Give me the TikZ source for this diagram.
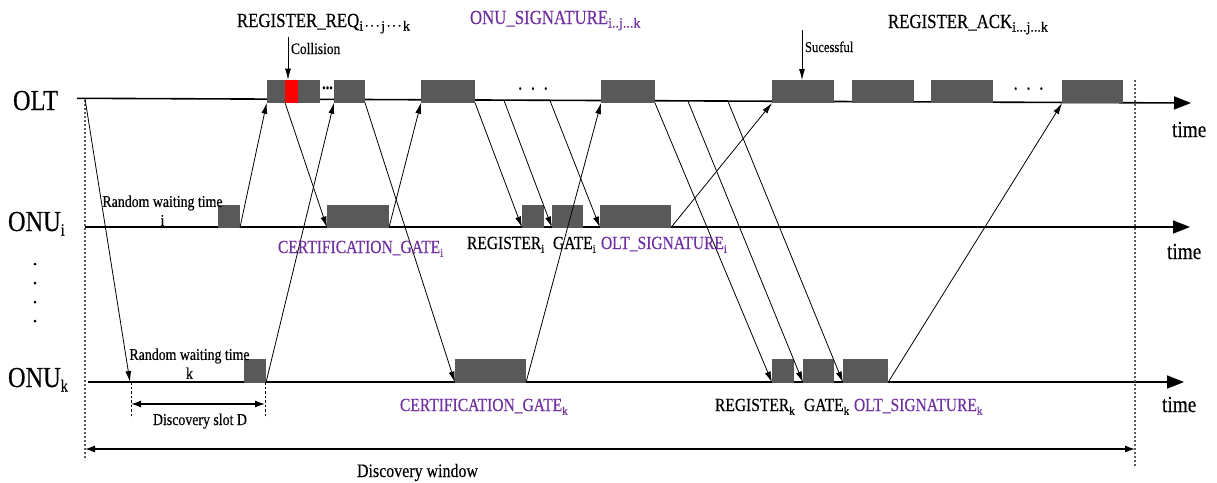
\documentclass[tikz,border=0pt]{standalone}
\usepackage{fontspec}
\setmainfont{Liberation Serif}[FakeStretch=0.84,FakeBold=0.35]
\newfontfamily\subfont{Liberation Serif}[FakeBold=0.35]
\usetikzlibrary{arrows.meta}
\definecolor{sigpurple}{RGB}{112,48,160}
\definecolor{blockgray}{RGB}{89,89,89}
\definecolor{boundgray}{RGB}{90,90,90}
% lowered indices
\newcommand{\lsub}[1]{\raisebox{-3.5pt}{\subfont\fontsize{11}{11}\selectfont #1}}
\newcommand{\tsub}[1]{\raisebox{-3.5pt}{\subfont\fontsize{14}{14}\selectfont #1}}
\newcommand{\bsub}[1]{\raisebox{-4.5pt}{\fontsize{17}{17}\selectfont #1}}
\begin{document}
\begin{tikzpicture}[x=1pt,y=-1pt,
  axis/.style={line width=1.6pt,-{Triangle[length=17pt,width=13pt]}},
  msg/.style={line width=0.8pt,-{Latex[length=11pt,width=6pt]}},
  blk/.style={fill=blockgray,draw=none,inner sep=0,outer sep=0,anchor=south west},
  lbl/.style={anchor=base west,inner sep=0,outer sep=0},
  station/.style={lbl,font=\fontsize{29}{31}\selectfont},
  timelbl/.style={lbl,font=\fontsize{23}{25}\selectfont},
  toplbl/.style={lbl,font=\fontsize{20}{22}\selectfont},
  msglbl/.style={lbl,font=\fontsize{18.5}{20}\selectfont},
  note/.style={lbl,font=\fontsize{16.5}{19}\selectfont},
  bound/.style={draw=boundgray,line width=1.1pt,dash pattern=on 2pt off 2pt},
  tick/.style={draw=black,line width=0.9pt,dash pattern=on 2.5pt off 2pt},
  span/.style={line width=1.3pt,{Latex[length=10pt,width=7pt]}-{Latex[length=10pt,width=7pt]}},
  dot/.style={fill=black,circle,inner sep=0,minimum size=3pt},
]
\useasboundingbox (0,0) rectangle (1217,482);

% ---------- time axes ----------
\coordinate (oltS) at (77,98.3);
\coordinate (oltE) at (1191,103);
\coordinate (onuiS) at (85,227);
\coordinate (onuiE) at (1190,227);
\coordinate (onukS) at (88,382);
\coordinate (onukE) at (1184,382);
\draw[axis] (oltS) -- (oltE);
\draw[axis] (onuiS) -- (onuiE);
\draw[axis] (onukS) -- (onukE);

\node[station] (olt) at (13,110) {OLT};
\node[station] (onui) at (8,231) {ONU\bsub{i}};
\node[station] (onuk) at (8,387) {ONU\bsub{k}};
\node[dot] (vd1) at (35,264) {};
\node[dot] (vd2) at (35,283) {};
\node[dot] (vd3) at (35,302) {};
\node[dot] (vd4) at (35,321) {};

\node[timelbl] (t1) at (1172,137) {time};
\node[timelbl] (t2) at (1167,259) {time};
\node[timelbl] (t3) at (1162,412) {time};

% ---------- discovery window ----------
\coordinate (wl0) at (85,100);
\coordinate (wl1) at (85,460);
\coordinate (wr0) at (1135,80);
\coordinate (wr1) at (1135,467);
\draw[bound] (wl0) -- (wl1);
\draw[bound] (wr0) -- (wr1);
\coordinate (wa) at (85,449);
\coordinate (wb) at (1135,449);
\draw[span] (wa) -- (wb);
\node[lbl,font=\fontsize{19}{21}\selectfont] (dwin) at (357,477) {Discovery window};

% ---------- OLT bursts ----------
\node[blk,minimum width=53.3pt,minimum height=23pt] (o1) at (266.7,102.7) {};
\node[fill=red,draw=none,inner sep=0,outer sep=0,anchor=south west,minimum width=12.7pt,minimum height=23pt] (col) at (285,102.7) {};
\node[blk,minimum width=31pt,minimum height=23pt] (o2) at (334,102.7) {};
\node[blk,minimum width=54pt,minimum height=23pt] (o3) at (421,102.7) {};
\node[blk,minimum width=54pt,minimum height=23pt] (o4) at (601,103) {};
\node[blk,minimum width=62pt,minimum height=23pt] (o5) at (772,103) {};
\node[blk,minimum width=62pt,minimum height=23pt] (o6) at (852,103) {};
\node[blk,minimum width=62pt,minimum height=23pt] (o7) at (931,103) {};
\node[blk,minimum width=61pt,minimum height=23pt] (o8) at (1062,103.3) {};
\node[anchor=base,inner sep=0,font=\bfseries\fontsize{17}{17}\selectfont] (el1) at (327.5,89) {...};
\node[anchor=base,inner sep=0,font=\fontsize{20}{20}\selectfont] (el2) at (533,89.5) {.\hspace{8.6pt}.\hspace{8.6pt}.};
\node[anchor=base,inner sep=0,font=\fontsize{20}{20}\selectfont] (el3) at (1028.5,89.5) {.\hspace{8.6pt}.\hspace{8.6pt}.};

% ---------- ONU_i bursts ----------
\node[blk,minimum width=22pt,minimum height=23pt] (i1) at (218,227.5) {};
\node[blk,minimum width=62pt,minimum height=23pt] (i2) at (327,227.5) {};
\node[blk,minimum width=22pt,minimum height=23pt] (i3) at (522,227.5) {};
\node[blk,minimum width=31pt,minimum height=23pt] (i4) at (552,227.5) {};
\node[blk,minimum width=71pt,minimum height=23pt] (i5) at (600,227.5) {};

% ---------- ONU_k bursts ----------
\node[blk,minimum width=22pt,minimum height=24pt] (k1) at (244,382.5) {};
\node[blk,minimum width=71pt,minimum height=24pt] (k2) at (455,382.5) {};
\node[blk,minimum width=22pt,minimum height=24pt] (k3) at (772,382.5) {};
\node[blk,minimum width=31pt,minimum height=24pt] (k4) at (803,382.5) {};
\node[blk,minimum width=45pt,minimum height=24pt] (k5) at (843,382.5) {};

% ---------- messages ----------
\coordinate (disc) at (85,98.6);
\coordinate (wk) at (130,382);
\coordinate (g1) at (504,100.5);
\coordinate (g2) at (550,100.7);
\coordinate (g3) at (688,101.3);
\coordinate (g4) at (728,101.5);
\draw[msg] (disc) -- (wk);
\draw[msg] (i1.south east) -- (o1.south west);
\draw[msg] (k1.south east) -- (o2.south west);
\draw[msg] (col.south west) -- (i2.south west);
\draw[msg] (o2.south east) -- (k2.south west);
\draw[msg] (i2.south east) -- (o3.south west);
\draw[msg] (o3.south east) -- (i3.south west);
\draw[msg] (g1) -- (i4.south west);
\draw[msg] (g2) -- (i5.south west);
\draw[msg] (k2.south east) -- (o4.south west);
\draw[msg] (o4.south east) -- (k3.south west);
\draw[msg] (g3) -- (k4.south west);
\draw[msg] (g4) -- (k5.south west);
\draw[msg] (i5.south east) -- (o5.south west);
\draw[msg] (k5.south east) -- (o8.south west);

% ---------- markers above OLT ----------
\coordinate (cm) at (288,37);
\draw[msg] (cm) -- (cm |- col.north);
\node[lbl,font=\fontsize{16}{18}\selectfont] (colt) at (291,54) {Collision};
\coordinate (sm) at (802,30);
\draw[msg] (sm) -- (sm |- o5.north);
\node[lbl,font=\fontsize{15}{17}\selectfont] (suct) at (805,52) {Sucessful};

% ---------- labels ----------
\node[toplbl] (req) at (237,27) {REGISTER\_REQ\tsub{i\kern1.2pt·\kern0.8pt·\kern0.8pt·\kern1.2pt j\kern1.2pt·\kern0.8pt·\kern0.8pt·\kern1.2pt k}};
\node[toplbl,text=sigpurple] (onusig) at (470,24) {ONU\_SIGNATURE\tsub{i..j...k}};
\node[toplbl] (ack) at (888,28) {REGISTER\_ACK\tsub{i...j...k}};

\node[msglbl,text=sigpurple] (cgi) at (278,253) {CERTIFICATION\_GATE\lsub{i}};
\node[msglbl] (regi) at (467,249) {REGISTER\lsub{i}};
\node[msglbl] (gatei) at (553,249) {GATE\lsub{i}};
\node[msglbl,text=sigpurple] (osi) at (601,249) {OLT\_SIGNATURE\lsub{i}};

\node[msglbl,text=sigpurple] (cgk) at (400,411) {CERTIFICATION\_GATE\lsub{k}};
\node[msglbl] (regk) at (715,411) {REGISTER\lsub{k}};
\node[msglbl] (gatek) at (804,411) {GATE\lsub{k}};
\node[msglbl,text=sigpurple] (osk) at (854,411) {OLT\_SIGNATURE\lsub{k}};

\node[note,anchor=north,align=center] (rwi) at (162.5,195.5) {Random waiting time\\i};
\node[note,anchor=north,align=center] (rwk) at (189.5,348.5) {Random waiting time\\k};

% ---------- discovery slot ----------
\coordinate (sa0) at (131,382);
\coordinate (sa1) at (131,418);
\coordinate (sb0) at (265,382);
\coordinate (sb1) at (265,418);
\draw[tick] (sa0) -- (sa1);
\draw[tick] (sb0) -- (sb1);
\coordinate (sa) at (131,404);
\coordinate (sb) at (265,404);
\draw[span] (sa) -- (sb);
\node[note] (dslot) at (153,425) {Discovery slot D};
\end{tikzpicture}
\end{document}
